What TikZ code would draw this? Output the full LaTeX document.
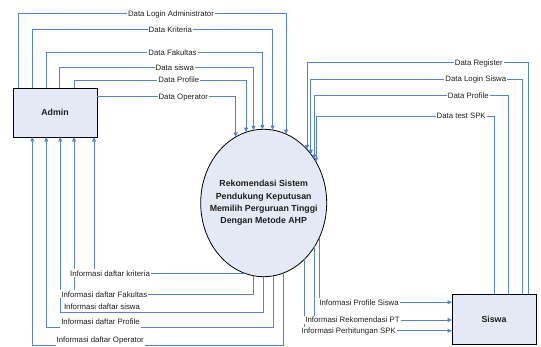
\documentclass[tikz,border=0pt]{standalone}
\usepackage{fontspec}
\setmainfont{Liberation Sans}
\usetikzlibrary{arrows.meta,shapes.geometric}
\definecolor{flowblue}{HTML}{5585C8}
\definecolor{boxfill}{HTML}{E4EAF5}
\definecolor{labeltext}{HTML}{1E1E1E}
\begin{document}
\begin{tikzpicture}[x=1pt,y=-1pt,
  flow/.style={draw=flowblue, line width=0.9pt},
  flowarrow/.style={flow, -{Triangle[length=4.5pt,width=4pt]}},
  entity/.style={draw=black, line width=0.8pt, fill=boxfill, rectangle,
    minimum width=84pt, minimum height=49pt, inner sep=0pt, outer sep=0pt,
    text=labeltext, font=\bfseries\fontsize{8.8}{10.5}\selectfont},
  process/.style={draw=black, line width=0.8pt, fill=boxfill, ellipse,
    minimum width=126pt, minimum height=147.4pt, inner sep=0pt, outer sep=0pt},
  lbl/.style={fill=white, inner xsep=1pt, inner ysep=1.2pt, text=labeltext,
    font=\fontsize{7.8}{9}\selectfont, text height=5.6pt, text depth=0pt},
  lblover/.style={lbl, anchor=base, inner ysep=0.8pt, text depth=3.2pt},
]
\fill[white] (0,0) rectangle (541,347);
\useasboundingbox (0,0) rectangle (541,347);

% external entities and the process
\node[entity] (admin) at (55,112.5) {Admin};
\node[entity, minimum height=50pt] (siswa) at (494,319.3) {Siswa};
\node[process] (sys) at (263.7,203) {};
\node[align=center, text=labeltext, font=\bfseries\fontsize{8.8}{12.3}\selectfont]
  (systext) at (sys.center) {Rekomendasi Sistem\\Pendukung Keputusan\\Memilih Perguruan Tinggi\\Dengan Metode AHP};

% Admin -> process
\draw[flowarrow] (admin.north -| 18.3,0) |- (sys.72 |- 0,13.3) -- (sys.72);
\draw[flowarrow] (admin.north -| 32.3,0) |- (sys.83 |- 0,29.3) -- (sys.83);
\draw[flowarrow] (admin.north -| 46.3,0) |- (sys.91 |- 0,52.7) -- (sys.91);
\draw[flowarrow] (admin.north -| 59.7,0) |- (sys.98 |- 0,67.7) -- (sys.98);
\draw[flowarrow] (admin.north -| 74,0) |- (sys.104 |- 0,80) -- (sys.104);
\draw[flowarrow] (admin.east |- 0,96.7) -| (sys.113);

% Siswa -> process
\draw[flowarrow] (siswa.north -| 528.3,0) |- (sys.51 |- 0,62.7) -- (sys.51);
\draw[flowarrow] (siswa.north -| 522.3,0) |- (sys.46 |- 0,79) -- (sys.46);
\draw[flowarrow] (siswa.north -| 508.3,0) |- (sys.41 |- 0,95.7) -- (sys.41);
\draw[flowarrow] (siswa.north -| 494.3,0) |- (sys.38 |- 0,116) -- (sys.38);

% process -> Admin
\draw[flowarrow] (sys.255) -| (admin.south -| 94,0);
\draw[flowarrow] (sys.262) -- (sys.262 |- 0,294.3) -| (admin.south -| 74,0);
\draw[flowarrow] (sys.270) -- (sys.270 |- 0,312) -| (admin.south -| 60.3,0);
\draw[flowarrow] (sys.278) -- (sys.278 |- 0,327.3) -| (admin.south -| 46.3,0);
\draw[flowarrow] (sys.286) -- (sys.286 |- 0,345.7) -| (admin.south -| 32.3,0);

% process -> Siswa
\draw[flowarrow] (sys.328) |- (siswa.west |- 0,302.3);
\draw[flowarrow] (sys.320) |- (siswa.west |- 0,320);
\draw[flowarrow] (sys.306) |- (siswa.west |- 0,330.7);

% flow labels
\node[lbl] (lLogAdm) at (171,13.3) {Data Login Administrator};
\node[lbl] (lKrit) at (170.3,29.3) {Data Kriteria};
\node[lbl] (lFak) at (172.5,52.7) {Data Fakultas};
\node[lbl] (lSis) at (174.8,67.7) {Data siswa};
\node[lbl] (lProA) at (178.8,80) {Data Profile};
\node[lbl] (lOpr) at (183.3,96.7) {Data Operator};

\node[lbl] (lReg) at (478.8,62.7) {Data Register};
\node[lbl] (lLogSis) at (475.8,79) {Data Login Siswa};
\node[lbl] (lProS) at (468.3,95.7) {Data Profile};
\node[lbl] (lTest) at (461.2,116) {Data test SPK};

\node[lbl] (iKrit) at (110,273.3) {Informasi daftar kriteria};
\node[lbl] (iFak) at (104.3,294.3) {Informasi daftar Fakultas};
\node[lbl] (iSis) at (102,306.7) {Informasi daftar siswa};
\node[lblover] (iPro) at (100.5,324.5) {Informasi daftar Profile};
\node[lblover] (iOpr) at (100.2,342.8) {Informasi daftar Operator};

\node[lbl] (iProS) at (359,302.3) {Informasi Profile Siswa};
\node[lbl] (iRek) at (352.5,320) {Informasi Rekomendasi PT};
\node[lbl] (iHit) at (348.7,330.7) {Informasi Perhitungan SPK};
\end{tikzpicture}
\end{document}
